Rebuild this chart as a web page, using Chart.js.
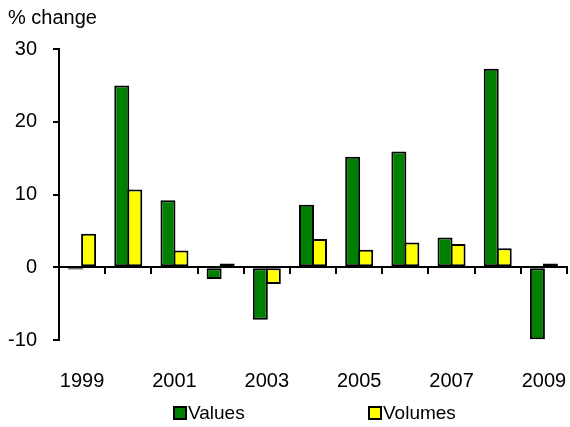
<!DOCTYPE html>
<html>
<head>
<meta charset="utf-8">
<script src="https://cdn.jsdelivr.net/npm/chart.js@4.4.1/dist/chart.umd.min.js"></script>
<style>
    html, body { margin: 0; padding: 0; background: #fff; }
    #wrap { width: 570px; height: 427px; }
</style>
</head>
<body>
<div id="wrap"><canvas id="chart" width="570" height="427"></canvas></div>
<script>
const years = ["1999", "2000", "2001", "2002", "2003", "2004", "2005", "2006", "2007", "2008", "2009"];
const valuesChange = [-0.3, 25.0, 9.2, -1.6, -7.2, 8.6, 15.2, 15.9, 4.1, 27.3, -9.9];
const volumesChange = [4.6, 10.7, 2.3, 0.5, -2.3, 3.9, 2.4, 3.4, 3.2, 2.6, 0.5];
const yTicks = [-10, 0, 10, 20, 30];

const FONT = "'Liberation Sans', Arial, sans-serif";

// legend drawn by hand so the two items can sit far apart like the original
const bottomLegend = {
    id: "bottomLegend",
    afterDraw: function(chart) {
        let ctx = chart.ctx;
        let starts = [173, 368];
        let cy = 413;
        ctx.save();
        ctx.font = "19px " + FONT;
        ctx.textBaseline = "middle";
        ctx.textAlign = "left";
        chart.data.datasets.forEach(function(ds, i) {
            let x = starts[i];
            ctx.fillStyle = ds.backgroundColor;
            ctx.fillRect(x + 1, cy - 6, 12, 12);
            ctx.lineWidth = 2;
            ctx.strokeStyle = "#000";
            ctx.strokeRect(x + 1, cy - 6, 12, 12);
            ctx.fillStyle = "#000";
            ctx.fillText(ds.label, x + 15, cy + 1);
        });
        ctx.restore();
    }
};

let context = document.querySelector("#chart").getContext("2d");
new Chart(context, {
    type: 'bar',
    data: {
        labels: years,
        datasets: [{
            label: "Values",
            data: valuesChange,
            backgroundColor: "#008000",
            borderColor: "#000",
            borderWidth: 2,
            borderSkipped: false,
            categoryPercentage: 0.563,
            barPercentage: 1.154
        }, {
            label: "Volumes",
            data: volumesChange,
            backgroundColor: "#FFFF00",
            borderColor: "#000",
            borderWidth: 2,
            borderSkipped: false,
            categoryPercentage: 0.563,
            barPercentage: 1.154
        }]
    },
    options: {
        responsive: false,
        animation: false,
        layout: {
            padding: { left: 8, right: 3, top: 0, bottom: 35 }
        },
        plugins: {
            legend: { display: false },
            tooltip: { enabled: false },
            title: {
                display: true,
                text: "% change",
                align: "start",
                color: "#000",
                font: { family: FONT, size: 20, weight: "normal" },
                padding: { top: 6, bottom: 19 }
            }
        },
        scales: {
            x: {
                type: "category",
                position: { y: 0 },
                offset: true,
                border: { display: true, color: "#000", width: 2 },
                grid: { drawOnChartArea: false, drawTicks: true, tickLength: 6, color: "#000", lineWidth: 2, offset: true },
                ticks: { display: false }
            },
            xLabels: {
                type: "category",
                position: "bottom",
                offset: true,
                border: { display: false },
                grid: { display: false, drawTicks: true, tickLength: 29 },
                ticks: {
                    autoSkip: false,
                    maxRotation: 0,
                    padding: 0,
                    color: "#000",
                    font: { family: FONT, size: 20 },
                    callback: function(value, index) {
                        return index % 2 === 0 ? years[index] : "";
                    }
                },
                afterFit: function(scale) { scale.height = 52; }
            },
            y: {
                min: yTicks[0],
                max: yTicks[yTicks.length - 1],
                border: { display: true, color: "#000", width: 2 },
                grid: { drawOnChartArea: false, drawTicks: true, tickLength: 6, color: "#000", lineWidth: 2 },
                afterBuildTicks: function(scale) {
                    scale.ticks = yTicks.map(function(v) { return { value: v }; });
                },
                ticks: {
                    padding: 16,
                    color: "#000",
                    font: { family: FONT, size: 20 }
                },
                afterFit: function(scale) { scale.width = 51; }
            }
        }
    },
    plugins: [bottomLegend]
});
</script>
</body>
</html>
